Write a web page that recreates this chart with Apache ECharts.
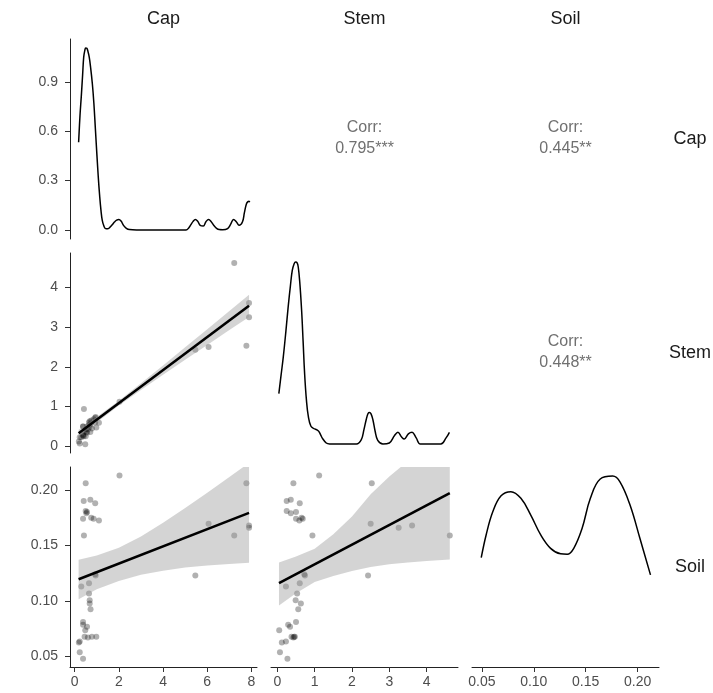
<!DOCTYPE html>
<html><head><meta charset="utf-8">
<script src="https://cdn.jsdelivr.net/npm/echarts@6/dist/echarts.min.js"></script>
<style>html,body{margin:0;padding:0;background:#fff}#c{width:713px;height:693px}</style>
</head><body><div id="c"></div>
<script>
// ---- data ----
const variables = ['Cap', 'Stem', 'Soil'];
const cap  = [2.03,0.50,7.77,0.41,0.71,0.93,0.50,0.53,0.56,0.38,0.75,0.86,1.10,0.42,7.22,6.06,7.89,7.89,5.46,0.93,0.95,0.30,0.65,0.65,0.68,0.68,0.72,0.38,0.38,0.56,0.48,0.45,0.60,0.78,0.98,0.19,0.23,0.23,0.38];
const stem = [1.12,0.43,2.53,0.25,0.36,0.60,0.25,0.36,0.50,0.50,0.65,0.68,0.59,0.94,4.62,2.50,3.61,3.25,2.43,0.72,0.74,0.23,0.60,0.53,0.49,0.63,0.56,0.50,0.29,0.34,0.05,0.38,0.43,0.45,0.47,0.12,0.23,0.07,0.27];
const soil = [0.213,0.206,0.206,0.190,0.191,0.188,0.181,0.179,0.180,0.174,0.175,0.174,0.1725,0.159,0.159,0.1695,0.168,0.166,0.123,0.124,0.123,0.113,0.116,0.1066,0.1006,0.0976,0.0925,0.081,0.0785,0.0767,0.0735,0.0677,0.067,0.0677,0.0677,0.0626,0.0634,0.0538,0.048];

const corrLabels = ['0.795***', '0.445**', '0.448**'];

const capDensX = [0.18,0.24,0.30,0.36,0.41,0.46,0.50,0.55,0.60,0.66,0.72,0.80,0.87,0.94,1.01,1.07,1.13,1.19,1.25,1.32,1.40,1.49,1.58,1.69,1.80,1.90,2.00,2.10,2.21,2.34,2.48,2.80,5.04,5.16,5.26,5.36,5.46,5.57,5.68,5.82,5.94,6.06,6.17,6.29,6.42,6.54,6.70,6.92,7.06,7.19,7.32,7.44,7.59,7.68,7.77,7.84,7.89,7.92];
const capDensY = [0.533,0.69,0.81,0.94,1.05,1.09,1.106,1.104,1.086,1.05,0.99,0.89,0.77,0.61,0.45,0.32,0.21,0.12,0.058,0.025,0.008,0.007,0.014,0.030,0.048,0.060,0.064,0.054,0.028,0.010,0.002,0,0,0.012,0.032,0.052,0.064,0.052,0.028,0.024,0.050,0.064,0.052,0.028,0.010,0.002,0.001,0.008,0.035,0.064,0.048,0.028,0.048,0.105,0.158,0.172,0.174,0.168];
const stemDensX = [0.04,0.10,0.16,0.23,0.29,0.35,0.40,0.45,0.49,0.53,0.56,0.60,0.65,0.69,0.73,0.78,0.83,0.90,1.00,1.07,1.11,1.16,1.20,1.31,1.40,2.12,2.25,2.32,2.38,2.43,2.47,2.51,2.56,2.62,2.69,2.83,3.00,3.14,3.23,3.33,3.40,3.51,3.61,3.72,3.83,4.38,4.52,4.61];
const stemDensY = [0.635,0.87,1.104,1.43,1.734,2.00,2.194,2.28,2.30,2.29,2.238,2.05,1.691,1.30,0.895,0.55,0.347,0.223,0.189,0.175,0.159,0.115,0.076,0.012,0,0,0.055,0.18,0.306,0.385,0.398,0.38,0.306,0.16,0.046,0,0.012,0.106,0.147,0.087,0.062,0.127,0.147,0.076,0,0,0.076,0.147];
const soilDensX = [0.0494,0.0541,0.0605,0.0685,0.078,0.0876,0.0971,0.1067,0.1162,0.1258,0.1322,0.1385,0.1465,0.1545,0.164,0.176,0.183,0.1927,0.2022,0.2124];
const soilDensY = [4.19,5.14,6.11,6.78,6.95,6.67,5.97,5.14,4.58,4.35,4.33,4.58,5.41,6.67,7.48,7.6,7.36,6.39,5.00,3.47];

const capStemBandX = [0.18,1,2,3,4,5,6,7,7.89];
const capStemLo = [0.237,0.600,1.024,1.419,1.801,2.179,2.553,2.927,3.26];
const capStemHi = [0.415,0.736,1.146,1.585,2.037,2.493,2.951,3.411,3.82];
const capStemFitX = [0.18, 7.89];
const capStemFitY = [0.326, 3.540];

const capSoilBandX = [0.18,1,2,3,4,5,6,7,7.89];
const capSoilLo = [0.1015,0.1105,0.1180,0.1235,0.1272,0.1300,0.1318,0.1332,0.1343];
const capSoilHi = [0.137,0.1408,0.1478,0.1581,0.1703,0.1837,0.1974,0.2116,0.2243];
const capSoilFitX = [0.18, 7.89];
const capSoilFitY = [0.1195, 0.1793];

const stemSoilBandX = [0.044,0.5,1,1.5,2,2.5,3,3.5,4,4.62];
const stemSoilLo = [0.0958,0.1070,0.1170,0.1225,0.1270,0.1305,0.1330,0.1345,0.1360,0.1374];
const stemSoilHi = [0.1345,0.1400,0.1470,0.1600,0.1760,0.1960,0.2120,0.2260,0.2420,0.2620];
const stemSoilFitX = [0.044, 4.62];
const stemSoilFitY = [0.1160, 0.1970];

const capTicks = [0, 2, 4, 6, 8];
const stemTicks = [0, 1, 2, 3, 4];
const soilTicks = [0.05, 0.10, 0.15, 0.20];
const densTicks = [0.0, 0.3, 0.6, 0.9];

// ---- layout ----
const colLeft = [70, 271, 472], colW = 187;
const rowTop = [39, 253, 467], rowH = 200;
const FONT = '"Liberation Sans", Arial, Helvetica, sans-serif';
const zip = (a, b) => a.map((v, i) => [v, b[i]]);

const grids = [], xAxes = [], yAxes = [], series = [];
function hidden(min, max) {
  return { type: 'value', min, max, show: true, axisLine: {show:false}, axisTick: {show:false}, axisLabel: {show:false}, splitLine: {show:false} };
}
function shown(min, max, ticks, fmt, pos) {
  return { type: 'value', min, max, position: pos,
    axisLine: {show: true, onZero: false, lineStyle: {color: '#222', width: 1}},
    axisTick: {show: true, length: 5, customValues: ticks, lineStyle: {color: '#333', width: 1}},
    axisLabel: {show: true, customValues: ticks, formatter: fmt, color: '#4d4d4d', fontSize: 14, fontFamily: FONT, margin: pos === 'left' ? 12 : 8.5},
    splitLine: {show: false} };
}
const capR = [-0.21, 8.25], stemR = [-0.17, 4.84], stemYR = [-0.17, 4.87], soilR = [0.0405, 0.2206];
const f0 = v => String(Math.round(v)), f1 = v => v.toFixed(1), f2 = v => v.toFixed(2);

function addGrid(r, c) {
  grids.push({ left: colLeft[c], top: rowTop[r], width: colW, height: rowH, outerBoundsMode: 'none', containLabel: false });
  return grids.length - 1;
}
let g = addGrid(0, 0);
xAxes.push(Object.assign(hidden(capR[0], capR[1]), {gridIndex: g}));
yAxes.push(Object.assign(shown(-0.055, 1.16, densTicks, f1, 'left'), {gridIndex: g}));
g = addGrid(1, 0);
xAxes.push(Object.assign(hidden(capR[0], capR[1]), {gridIndex: g}));
yAxes.push(Object.assign(shown(stemYR[0], stemYR[1], stemTicks, f0, 'left'), {gridIndex: g}));
g = addGrid(1, 1);
xAxes.push(Object.assign(hidden(stemR[0], stemR[1]), {gridIndex: g}));
yAxes.push(Object.assign(hidden(-0.115, 2.415), {gridIndex: g}));
g = addGrid(2, 0);
xAxes.push(Object.assign(shown(capR[0], capR[1], capTicks, f0, 'bottom'), {gridIndex: g}));
yAxes.push(Object.assign(shown(soilR[0], soilR[1], soilTicks, f2, 'left'), {gridIndex: g}));
g = addGrid(2, 1);
xAxes.push(Object.assign(shown(stemR[0], stemR[1], stemTicks, f0, 'bottom'), {gridIndex: g}));
yAxes.push(Object.assign(hidden(soilR[0], soilR[1]), {gridIndex: g}));
g = addGrid(2, 2);
xAxes.push(Object.assign(shown(soilR[0], soilR[1], soilTicks, f2, 'bottom'), {gridIndex: g}));
yAxes.push(Object.assign(hidden(-0.38, 7.98), {gridIndex: g}));

function densSeries(idx, xs, ys) {
  series.push({ type: 'line', xAxisIndex: idx, yAxisIndex: idx, data: zip(xs, ys), showSymbol: false, smooth: 0.4,
    lineStyle: {color: '#000', width: 1.5}, silent: true, z: 3 });
}
function scatterPanel(idx, xs, ys, bx, lo, hi, fx, fy) {
  series.push({ type: 'scatter', xAxisIndex: idx, yAxisIndex: idx, data: zip(xs, ys), symbolSize: 6,
    itemStyle: {color: 'rgba(0,0,0,0.38)'}, silent: true, z: 2 });
  series.push({ type: 'custom', xAxisIndex: idx, yAxisIndex: idx, clip: true, silent: true, z: 3,
    data: bx.map((x, i) => [x, lo[i], hi[i]]),
    renderItem: function (params, api) {
      if (params.dataIndex !== 0) return null;
      const pts = [];
      for (let i = 0; i < bx.length; i++) pts.push(api.coord([bx[i], hi[i]]));
      for (let i = bx.length - 1; i >= 0; i--) pts.push(api.coord([bx[i], lo[i]]));
      return { type: 'polygon', shape: { points: pts }, style: { fill: 'rgba(153,153,153,0.42)', stroke: null } };
    } });
  series.push({ type: 'line', xAxisIndex: idx, yAxisIndex: idx, data: zip(fx, fy), showSymbol: false,
    lineStyle: {color: '#000', width: 2.6}, silent: true, z: 4 });
}
densSeries(0, capDensX, capDensY);
scatterPanel(1, cap, stem, capStemBandX, capStemLo, capStemHi, capStemFitX, capStemFitY);
densSeries(2, stemDensX, stemDensY);
scatterPanel(3, cap, soil, capSoilBandX, capSoilLo, capSoilHi, capSoilFitX, capSoilFitY);
scatterPanel(4, stem, soil, stemSoilBandX, stemSoilLo, stemSoilHi, stemSoilFitX, stemSoilFitY);
densSeries(5, soilDensX, soilDensY);

const graphics = [];
variables.forEach((v, i) => {
  graphics.push({ type: 'text', x: colLeft[i] + colW / 2, y: 19, style: { text: v, fill: '#1a1a1a', font: '18px ' + FONT, align: 'center', verticalAlign: 'middle' } });
  graphics.push({ type: 'text', x: 690, y: rowTop[i] + rowH / 2, style: { text: v, fill: '#1a1a1a', font: '18px ' + FONT, align: 'center', verticalAlign: 'middle' } });
});
const corrCells = [[0, 1], [0, 2], [1, 2]];
corrCells.forEach(([r, c], k) => {
  const cx = colLeft[c] + colW / 2, cy = rowTop[r] + rowH / 2 - 0.5;
  graphics.push({ type: 'text', x: cx, y: cy - 10.5, style: { text: 'Corr:', fill: '#707070', font: '16px ' + FONT, align: 'center', verticalAlign: 'middle' } });
  graphics.push({ type: 'text', x: cx, y: cy + 10.5, style: { text: corrLabels[k], fill: '#707070', font: '16px ' + FONT, align: 'center', verticalAlign: 'middle' } });
});

const chart = echarts.init(document.getElementById('c'), null, {renderer: 'canvas'});
chart.setOption({
  animation: false,
  backgroundColor: '#fff',
  grid: grids, xAxis: xAxes, yAxis: yAxes, series: series,
  graphic: graphics
});
</script></body></html>
